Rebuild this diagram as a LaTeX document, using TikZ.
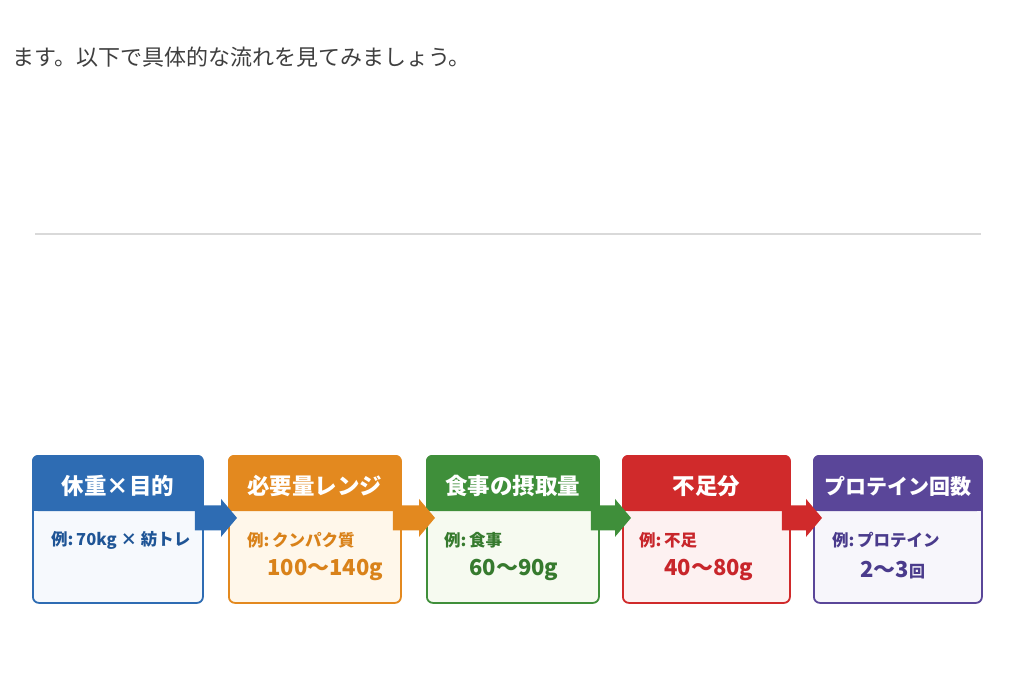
\documentclass[tikz,border=0pt]{standalone}
\usepackage{fontspec}
\setmainfont{Noto Sans CJK JP}
\usetikzlibrary{positioning,calc}

\definecolor{introgray}{HTML}{3F3F3F}
\definecolor{rulegray}{HTML}{D9D9D9}
\definecolor{bluec}{HTML}{2E6CB3}
\definecolor{bluet}{HTML}{F6F9FD}
\definecolor{bluetx}{HTML}{1F5596}
\definecolor{orangec}{HTML}{E3891F}
\definecolor{oranget}{HTML}{FFF7EA}
\definecolor{orangetx}{HTML}{D9821A}
\definecolor{greenc}{HTML}{3F8F3A}
\definecolor{greent}{HTML}{F6FAF0}
\definecolor{greentx}{HTML}{367A2E}
\definecolor{redc}{HTML}{D02A2B}
\definecolor{redt}{HTML}{FDF1F1}
\definecolor{redtx}{HTML}{C8262B}
\definecolor{purplec}{HTML}{5A4699}
\definecolor{purplet}{HTML}{F7F6FB}
\definecolor{purpletx}{HTML}{4A3B8C}

\tikzset{
  card/.style={rounded corners=6pt, line width=1.8pt, inner sep=0pt, anchor=north west, minimum height=147pt},
  head/.style={text=white, inner sep=0pt, font=\fontsize{22.5}{22.5}\selectfont\bfseries},
  example/.style={anchor=west, inner sep=0pt, font=\fontsize{16.5}{16.5}\selectfont\bfseries},
  amount/.style={anchor=west, inner sep=0pt, font=\fontsize{22}{22}\selectfont\bfseries}
}

\begin{document}
\begin{tikzpicture}[x=1pt,y=-1pt]
\useasboundingbox[fill=white] (0,0) rectangle (1024,683);

\node[anchor=west, inner sep=0pt, text=introgray, font=\fontsize{22}{22}\selectfont] (intro) at (12,57) {ます。以下で具体的な流れを見てみましょう。};
\draw[rulegray, line width=1.5pt] (35,234) -- (981,234);

\node[card, draw=bluec, fill=bluet, minimum width=170pt] (c1) at (32,455) {};
\node[card, draw=orangec, fill=oranget, minimum width=172pt] (c2) at (228,455) {};
\node[card, draw=greenc, fill=greent, minimum width=172pt] (c3) at (426,455) {};
\node[card, draw=redc, fill=redt, minimum width=167pt] (c4) at (622,455) {};
\node[card, draw=purplec, fill=purplet, minimum width=168pt] (c5) at (813,455) {};

\fill[bluec, rounded corners=6pt] (c1.north west) rectangle ($(c1.north east)+(0,56)$);
\fill[bluec] ($(c1.north west)+(0,40)$) rectangle ($(c1.north east)+(0,56)$);
\fill[orangec, rounded corners=6pt] (c2.north west) rectangle ($(c2.north east)+(0,56)$);
\fill[orangec] ($(c2.north west)+(0,40)$) rectangle ($(c2.north east)+(0,56)$);
\fill[greenc, rounded corners=6pt] (c3.north west) rectangle ($(c3.north east)+(0,56)$);
\fill[greenc] ($(c3.north west)+(0,40)$) rectangle ($(c3.north east)+(0,56)$);
\fill[redc, rounded corners=6pt] (c4.north west) rectangle ($(c4.north east)+(0,56)$);
\fill[redc] ($(c4.north west)+(0,40)$) rectangle ($(c4.north east)+(0,56)$);
\fill[purplec, rounded corners=6pt] (c5.north west) rectangle ($(c5.north east)+(0,56)$);
\fill[purplec] ($(c5.north west)+(0,40)$) rectangle ($(c5.north east)+(0,56)$);

\node[head] (h1) at ($(c1.north)+(0,31)$) {休重×目的};
\node[head] (h2) at ($(c2.north)+(0,31)$) {必要量レンジ};
\node[head] (h3) at ($(c3.north)+(0,31)$) {食事の摂取量};
\node[head] (h4) at ($(c4.north)+(0,31)$) {不足分};
\node[head, font=\fontsize{21}{21}\selectfont\bfseries] (h5) at ($(c5.north)+(0,31)$) {プロテイン回数};

\node[example, text=bluetx] (e1) at ($(c1.north west)+(19,85)$) {例:\,70kg × 紡トレ};
\node[example, text=orangetx] (e2) at ($(c2.north west)+(19,85)$) {例:\,クンパク質};
\node[example, text=greentx] (e3) at ($(c3.north west)+(18,85)$) {例:\,食事};
\node[example, text=redtx] (e4) at ($(c4.north west)+(17,85)$) {例:\,不足};
\node[example, text=purpletx] (e5) at ($(c5.north west)+(19,85)$) {例:\,プロテイン};

\node[amount, text=orangetx] (a2) at ($(c2.north west)+(39,115)$) {100～140g};
\node[amount, text=greentx] (a3) at ($(c3.north west)+(43,115)$) {60～90g};
\node[amount, text=redtx] (a4) at ($(c4.north west)+(42,115)$) {40～80g};
\node[amount, text=purpletx] (a5) at ($(c5.north west)+(47,115)$) {2～3{\fontsize{16}{16}\selectfont 回}};

\fill[bluec] ($(c1.east)+(-9,-24)$) -- ($(c2.west)+(-7,-24)$) -- ($(c2.west)+(-7,-30.5)$) -- ($(c2.west)+(9,-11.5)$) -- ($(c2.west)+(-7,7.5)$) -- ($(c2.west)+(-7,1)$) -- ($(c1.east)+(-9,1)$) -- cycle;
\fill[orangec] ($(c2.east)+(-9,-24)$) -- ($(c3.west)+(-7,-24)$) -- ($(c3.west)+(-7,-30.5)$) -- ($(c3.west)+(9,-11.5)$) -- ($(c3.west)+(-7,7.5)$) -- ($(c3.west)+(-7,1)$) -- ($(c2.east)+(-9,1)$) -- cycle;
\fill[greenc] ($(c3.east)+(-9,-24)$) -- ($(c4.west)+(-7,-24)$) -- ($(c4.west)+(-7,-30.5)$) -- ($(c4.west)+(9,-11.5)$) -- ($(c4.west)+(-7,7.5)$) -- ($(c4.west)+(-7,1)$) -- ($(c3.east)+(-9,1)$) -- cycle;
\fill[redc] ($(c4.east)+(-9,-24)$) -- ($(c5.west)+(-7,-24)$) -- ($(c5.west)+(-7,-30.5)$) -- ($(c5.west)+(9,-11.5)$) -- ($(c5.west)+(-7,7.5)$) -- ($(c5.west)+(-7,1)$) -- ($(c4.east)+(-9,1)$) -- cycle;
\end{tikzpicture}
\end{document}
